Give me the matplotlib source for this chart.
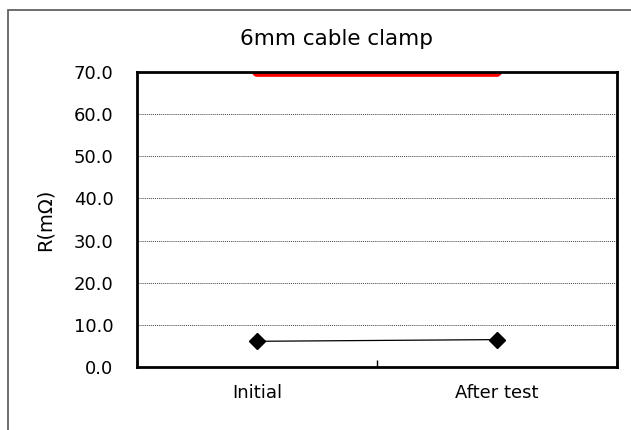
import numpy as np
import matplotlib
matplotlib.use("Agg")
from matplotlib import pyplot as plt
from matplotlib.patches import Rectangle

categories = ["Initial", "After test"]
resistance = [6.1, 6.5]
limit = [70.0, 70.0]
y_ticks = [0, 10, 20, 30, 40, 50, 60, 70]

plt.rcParams['font.family'] = ['DejaVu Sans']

fig = plt.figure(figsize=(6.31, 4.30), dpi=100)
ax = fig.add_axes([137 / 631, 63 / 430, 480 / 631, 295 / 430])

# cadre gris autour du graphique
fig.patches.append(Rectangle((8 / 631, -0.1), 1.2, (420 / 430) + 0.1,
                             transform=fig.transFigure, fill=False,
                             edgecolor='#555555', linewidth=1.2))

x = np.arange(len(categories))
ax.plot(x, limit, color='red', linewidth=7, solid_capstyle='round', zorder=2)
ax.plot(x, resistance, color='black', linewidth=0.9, marker='D',
        markersize=8.5, zorder=3)

ax.set_xlim(-0.5, 1.5)
ax.set_ylim(0, 70)
ax.set_yticks(y_ticks)
ax.set_yticklabels([f"{v:.1f}" for v in y_ticks], fontsize=13)
ax.tick_params(axis='y', length=0, pad=17)

ax.set_xticks([-0.5, 0.5, 1.5])
ax.set_xticklabels([])
ax.set_xticks(x, minor=True)
ax.set_xticklabels(categories, minor=True, fontsize=13)
ax.tick_params(axis='x', which='major', direction='in', length=5, width=1)
ax.tick_params(axis='x', which='minor', length=0, pad=12)

ax.yaxis.grid(True, linestyle=(0, (1, 1)), color='#444444', linewidth=0.7)
ax.set_axisbelow(True)
for s in ax.spines.values():
    s.set_linewidth(2)
    s.set_zorder(5)

ax.set_ylabel("R(mΩ)", fontsize=14, labelpad=14)
fig.text(336 / 631, 1 - 39 / 430, "6mm cable clamp", fontsize=15.5,
         ha='center', va='center')

plt.savefig("out.png", dpi=100)
